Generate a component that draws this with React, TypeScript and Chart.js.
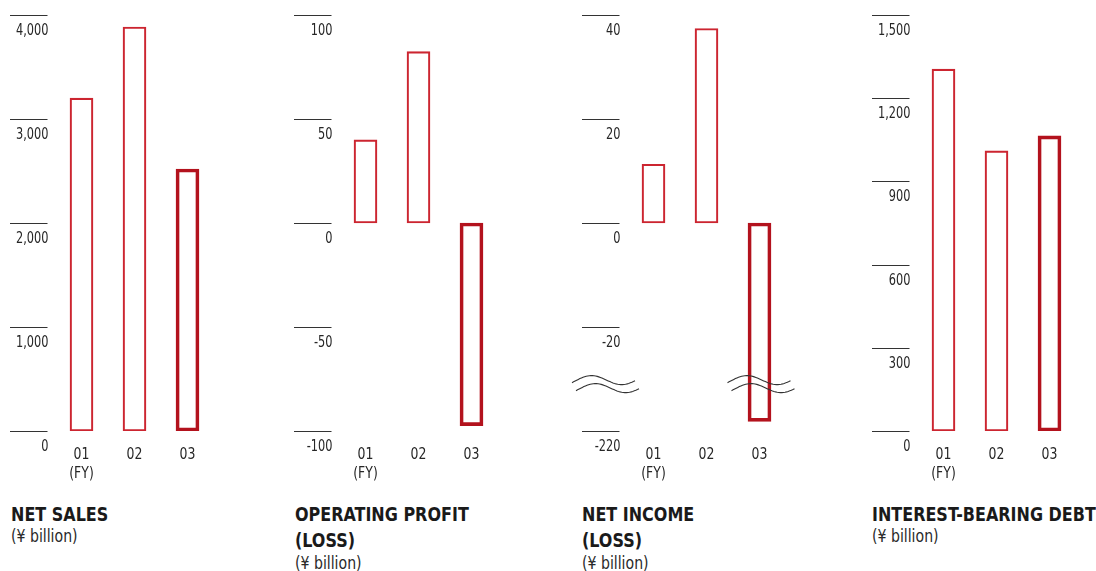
import React, { useEffect, useRef } from "react";
import { Chart, registerables } from "chart.js";

Chart.register(...registerables);

// ---- Data ----
const CATEGORIES: string[][] = [["01", "(FY)"], ["02"], ["03"]];
const NET_SALES = [3200, 3885, 2519];
const OPERATING_PROFIT = [40.0, 82.4, -97.4];
const NET_INCOME = [11.3, 37.4, -215.4];
const INTEREST_BEARING_DEBT = [1305, 1010, 1064];

const NET_SALES_TICKS = { min: 0, max: 4000, step: 1000 };
const OPERATING_TICKS = { min: -100, max: 100, step: 50 };
const NET_INCOME_TICKS = { min: -40, max: 40, step: 20 };
const DEBT_TICKS = { min: 0, max: 1500, step: 300 };

// Net income axis is broken between -20 and -220
const NET_INCOME_BREAK_LABELS: Record<string, string> = { "-40": "-220" };
const breakMap = (v: number) => (v >= -20 ? v : -40 + (v + 220) * 0.4);

const TITLES = [
  { lines: ["NET SALES"], unit: "(¥ billion)" },
  { lines: ["OPERATING PROFIT", "(LOSS)"], unit: "(¥ billion)" },
  { lines: ["NET INCOME", "(LOSS)"], unit: "(¥ billion)" },
  { lines: ["INTEREST-BEARING DEBT"], unit: "(¥ billion)" },
];

const FONT = '"DejaVu Sans Condensed", "Liberation Sans Narrow", sans-serif';
const TEXT = "#262626";
const THIN_RED = "#cc2530";
const THICK_RED = "#b3121d";

const CANVAS_W = 229;
const CANVAS_H = 490;
const PAD_LEFT = 60;
const PAD_RIGHT = 10;
const LEFTS = [-5, 279.3, 566.7, 856.7];
const SX = 0.84;

const fmt = (v: number) => v.toLocaleString("en-US");

function condensedText(
  ctx: CanvasRenderingContext2D,
  text: string,
  x: number,
  y: number,
  align: CanvasTextAlign,
  size: number
) {
  ctx.save();
  ctx.translate(x, y);
  ctx.scale(SX, 1);
  ctx.font = `${size}px ${FONT}`;
  ctx.textAlign = align;
  ctx.textBaseline = "alphabetic";
  ctx.fillStyle = TEXT;
  ctx.fillText(text, 0, 0);
  ctx.restore();
}

const axisPlugin = {
  id: "axisMarks",
  afterDatasetsDraw(chart: any, _args: any, opts: any) {
    const y = chart.scales.y;
    const x = chart.scales.x;
    const ctx = chart.ctx as CanvasRenderingContext2D;
    ctx.save();
    y.ticks.forEach((t: any) => {
      const py = Math.round(y.getPixelForValue(t.value)) + 0.5;
      ctx.strokeStyle = "#333";
      ctx.lineWidth = 1;
      ctx.beginPath();
      ctx.moveTo(15, py);
      ctx.lineTo(52.5, py);
      ctx.stroke();
      const key = String(t.value);
      const label = opts.labels && opts.labels[key] ? opts.labels[key] : fmt(t.value);
      condensedText(ctx, label, 53.5, py + 19, "right", 15);
    });
    const bottom = chart.chartArea.bottom;
    (chart.data.labels as string[][]).forEach((lines, i) => {
      const cx = x.getPixelForValue(i);
      lines.forEach((l, j) => {
        condensedText(ctx, l, cx, bottom + 28.3 + j * 18.4, "center", 16.5);
      });
    });
    if (opts.breakAt !== undefined) {
      const cy = y.getPixelForValue(opts.breakAt);
      const drawWave = (x0: number, w: number, c: number) => {
        ctx.beginPath();
        for (let i = 0; i <= 40; i++) {
          const t = i / 40;
          const px = x0 + t * w;
          const py = c - 5 * Math.sin(2 * Math.PI * t - 0.3) - t * 2;
          if (i === 0) ctx.moveTo(px, py);
          else ctx.lineTo(px, py);
        }
        ctx.stroke();
      };
      ctx.strokeStyle = "#333";
      ctx.lineWidth = 1.1;
      const xs = [5, x.getPixelForValue(2) - 32];
      xs.forEach((x0) => {
        drawWave(x0, 63, cy - 3);
        drawWave(x0 + 4, 63, cy + 5);
      });
    }
    ctx.restore();
  },
};

function makeConfig(values: number[], ticks: { min: number; max: number; step: number }, pluginOpts: any) {
  return {
    type: "bar" as const,
    data: {
      labels: CATEGORIES,
      datasets: [
        {
          data: values,
          backgroundColor: "rgba(255,255,255,0)",
          borderColor: [THIN_RED, THIN_RED, THICK_RED],
          borderWidth: [1.5, 1.5, 3],
          borderSkipped: false,
          barThickness: 23,
        },
      ],
    },
    plugins: [axisPlugin],
    options: {
      animation: false,
      responsive: false,
      maintainAspectRatio: false,
      layout: { padding: { left: PAD_LEFT, right: PAD_RIGHT, top: 15, bottom: 0 } },
      plugins: {
        legend: { display: false },
        tooltip: { enabled: false },
        title: { display: false },
        axisMarks: pluginOpts,
      },
      scales: {
        x: {
          grid: { display: false },
          border: { display: false },
          ticks: { display: false },
          afterFit: (s: any) => {
            s.height = CANVAS_H - 431;
          },
        },
        y: {
          display: false,
          min: ticks.min,
          max: ticks.max,
          ticks: { stepSize: ticks.step },
        },
      },
    },
  };
}

function BarPanel({ left, config }: { left: number; config: any }) {
  const ref = useRef<HTMLCanvasElement>(null);
  useEffect(() => {
    if (!ref.current) return;
    const chart = new Chart(ref.current, config);
    return () => chart.destroy();
  }, [config]);
  return (
    <canvas
      ref={ref}
      width={CANVAS_W}
      height={CANVAS_H}
      style={{ position: "absolute", left, top: 0, width: CANVAS_W, height: CANVAS_H }}
    />
  );
}

const CONFIGS = [
  makeConfig(NET_SALES, NET_SALES_TICKS, {}),
  makeConfig(OPERATING_PROFIT, OPERATING_TICKS, {}),
  makeConfig(NET_INCOME.map(breakMap), NET_INCOME_TICKS, { labels: NET_INCOME_BREAK_LABELS, breakAt: -31 }),
  makeConfig(INTEREST_BEARING_DEBT, DEBT_TICKS, {}),
];

export default function App() {
  return (
    <div
      style={{
        position: "absolute",
        left: 0,
        top: 0,
        width: 1096,
        height: 571,
        background: "#fff",
        overflow: "hidden",
        fontFamily: FONT,
      }}
    >
      {CONFIGS.map((c, i) => (
        <BarPanel key={i} left={LEFTS[i]} config={c} />
      ))}
      {TITLES.map((t, i) => (
        <div
          key={"t" + i}
          style={{
            position: "absolute",
            left: LEFTS[i] + 15.5,
            top: 500.7,
            whiteSpace: "nowrap",
          }}
        >
          {t.lines.map((l, j) => (
            <div
              key={j}
              style={{
                fontWeight: "bold",
                fontSize: 19,
                lineHeight: "26.5px",
                color: "#1a1a1a",
                transform: "scaleX(0.935)",
                transformOrigin: "0 0",
              }}
            >
              {l}
            </div>
          ))}
          <div
            style={{
              fontSize: 18,
              lineHeight: "17.5px",
              color: "#2a2a2a",
              transform: "scaleX(0.87)",
              transformOrigin: "0 0",
            }}
          >
            {t.unit}
          </div>
        </div>
      ))}
    </div>
  );
}
